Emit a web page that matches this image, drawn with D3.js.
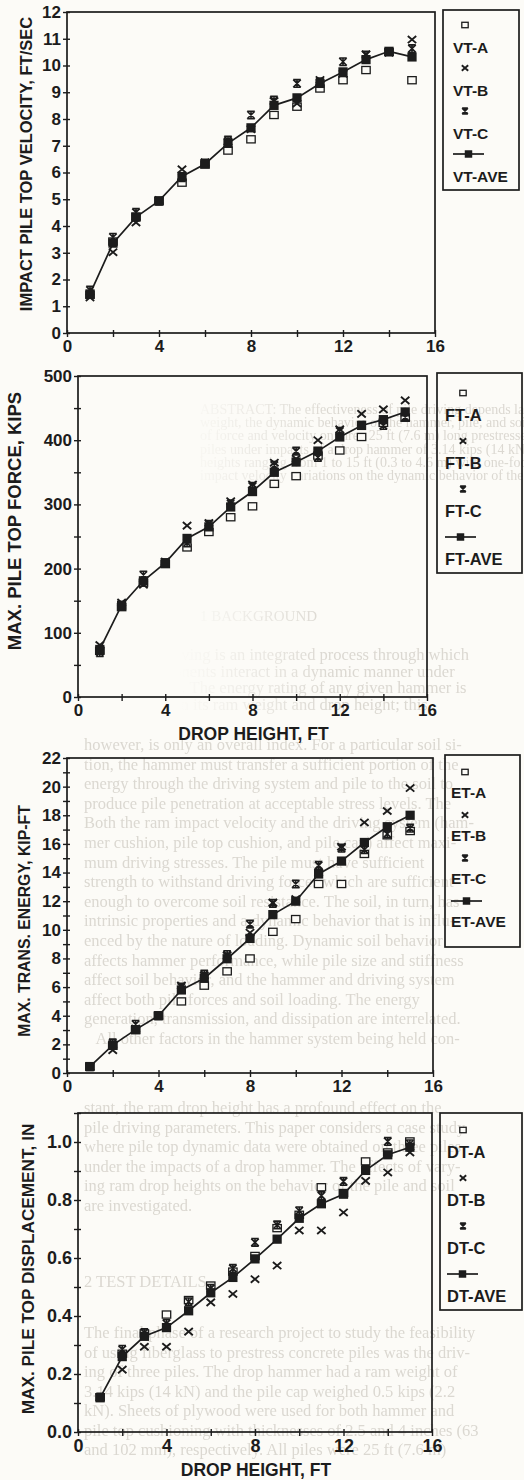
<!DOCTYPE html>
<html>
<head>
<meta charset="utf-8">
<script src="https://cdn.jsdelivr.net/npm/d3@7/dist/d3.min.js"></script>
<style>
  body { margin: 0; background: #fcfbf7; }
  svg { display: block; font-family: "Liberation Sans", Arial, Helvetica, sans-serif; }
</style>
</head>
<body>
<div id="chart"></div>
<script>
// Drop heights, shared x values of all four plots
const dropHeight = [1, 2, 3, 4, 5, 6, 7, 8, 9, 10, 11, 12, 13, 14, 15];
const xTicks = [0, 2, 4, 6, 8, 10, 12, 14, 16];
const xLabelTicks = [0, 4, 8, 12, 16];

// Impact pile top velocity, ft/sec
const vtA = [1.43, 3.42, 4.35, 4.93, 5.62, 6.30, 6.82, 7.24, 8.15, 8.46, 9.14, 9.45, 9.83, 10.50, 9.45];
const vtB = [1.33, 3.02, 4.13, 4.97, 6.12, 6.38, 7.15, 7.62, 8.67, 8.58, 9.46, 9.69, 10.42, 10.48, 10.97];
const vtC = [1.60, 3.58, 4.51, 4.93, 5.81, 6.35, 7.21, 8.15, 8.71, 9.33, 9.39, 10.14, 10.39, 10.52, 10.63];
const vtAve = [1.46, 3.36, 4.33, 4.94, 5.85, 6.32, 7.09, 7.67, 8.51, 8.79, 9.33, 9.76, 10.22, 10.53, 10.32];

// Max. pile top force, kips
const ftA = [72, 140, 178, 207, 233, 257, 280, 297, 332, 344, 376, 384, 405, 427, 435];
const ftB = [81, 147, 175, 211, 267, 271, 305, 331, 365, 371, 400, 417, 441, 448, 462];
const ftC = [69, 142, 190, 209, 240, 269, 301, 328, 361, 383, 373, 414, 423, 423, 436];
const ftAve = [74, 143, 181, 209, 247, 265, 296, 320, 350, 366, 383, 405, 423, 432, 444];

// Max. transferred energy, kip-ft
const etA = [0.45, 1.9, 3.0, 4.0, 5.0, 6.1, 7.1, 8.0, 9.86, 10.75, 13.2, 13.2, 15.3, 16.6, 16.9];
const etB = [0.45, 1.6, 3.1, 4.0, 6.1, 6.8, 8.2, 9.8, 11.9, 12.15, 14.0, 15.8, 17.5, 18.3, 19.9];
const etC = [0.45, 2.1, 3.4, 4.0, 6.0, 6.9, 8.27, 10.4, 11.85, 13.2, 14.5, 15.7, 15.6, 16.7, 17.1];
const etAve = [0.45, 1.95, 3.03, 4.0, 5.8, 6.62, 7.98, 9.4, 11.06, 12.0, 13.9, 14.8, 16.1, 17.2, 18.0];

// Max. pile top displacement, in
const dtA = [0.12, 0.27, 0.34, 0.405, 0.455, 0.505, 0.553, 0.607, 0.703, 0.749, 0.844, 0.824, 0.933, 0.964, 1.002];
const dtB = [0.12, 0.215, 0.294, 0.294, 0.346, 0.447, 0.476, 0.527, 0.574, 0.695, 0.695, 0.757, 0.866, 0.895, 0.964];
const dtC = [0.12, 0.285, 0.343, 0.374, 0.449, 0.495, 0.564, 0.654, 0.714, 0.763, 0.815, 0.864, 0.907, 1.002, 0.994];
const dtAve = [0.118, 0.26, 0.33, 0.36, 0.418, 0.48, 0.533, 0.597, 0.665, 0.737, 0.787, 0.82, 0.902, 0.956, 0.982];

// Faint page text showing through the scan
const abstractLines = [
    "ABSTRACT: The effectiveness of pile driving depends larg-",
    "weight, the dynamic behavior of the hammer, pile, and soil,",
    "of force and velocity on three 25 ft (7.6 m) long prestressed",
    "piles under impacts of a drop hammer of 3.14 kips (14 kN)",
    "heights ranging from 1 to 15 ft (0.3 to 4.6 m) with one-foot",
    "impact velocity variations on the dynamic behavior of the"
];
const introLines = [
    "Impact pile driving is an integrated process through which",
    "various components interact in a dynamic manner under",
    "hammer blows. The energy rating of any given hammer is",
    "dependent upon its ram weight and drop height; this,"
];
const bodyLines = [
    "however, is only an overall index. For a particular soil si-",
    "tion, the hammer must transfer a sufficient portion of the",
    "energy through the driving system and pile to the soil to",
    "produce pile penetration at acceptable stress levels. The",
    "Both the ram impact velocity and the driving system (ham-",
    "mer cushion, pile top cushion, and pile cap) affect maxi-",
    "mum driving stresses. The pile must have sufficient",
    "strength to withstand driving forces which are sufficient",
    "enough to overcome soil resistance. The soil, in turn, has",
    "intrinsic properties and a dynamic behavior that is influ-",
    "enced by the nature of loading. Dynamic soil behavior",
    "affects hammer performance, while pile size and stiffness",
    "affect soil behavior, and the hammer and driving system",
    "affect both pile forces and soil loading. The energy",
    "generation, transmission, and dissipation are interrelated.",
    "   All other factors in the hammer system being held con-"
];
const caseLines = [
    "stant, the ram drop height has a profound effect on the",
    "pile driving parameters. This paper considers a case study",
    "where pile top dynamic data were obtained on three piles",
    "under the impacts of a drop hammer. The effects of vary-",
    "ing ram drop heights on the behavior of the pile and soil",
    "are investigated."
];
const testLines = [
    "The final phase of a research project to study the feasibility",
    "of using fiberglass to prestress concrete piles was the driv-",
    "ing of three piles. The drop hammer had a ram weight of",
    "3.14 kips (14 kN) and the pile cap weighed 0.5 kips (2.2",
    "kN). Sheets of plywood were used for both hammer and",
    "pile top cushioning with thicknesses of 2.5 and 4 inches (63",
    "and 102 mm), respectively. All piles were 25 ft (7.6 m)"
];

const ink = "#1c1c1c";
const paper = "#fcfbf7";
const ghost = "#dbd8d1";

// Create the SVG container
const svg = d3.select('#chart')
    .append('svg')
    .attr('width', 524)
    .attr('height', 1480);

const defs = svg.append('defs');

// Gradient that fades the show-through text in from the left
const grad = defs.append('linearGradient')
    .attr('id', 'fade')
    .attr('gradientUnits', 'userSpaceOnUse')
    .attr('x1', 180).attr('x2', 330).attr('y1', 0).attr('y2', 0);
grad.append('stop').attr('offset', 0).attr('stop-color', ghost).attr('stop-opacity', 0);
grad.append('stop').attr('offset', 1).attr('stop-color', ghost).attr('stop-opacity', 1);

// Slight blur, like the scanned page
defs.append('filter').attr('id', 'soft')
    .append('feGaussianBlur').attr('stdDeviation', 0.45);

const ghostLayer = svg.append('g').attr('filter', 'url(#soft)');

function ghostText(lines, x, y0, step, size, fill) {
    ghostLayer.append('g').selectAll('text')
        .data(lines)
        .enter().append('text')
        .attr('x', x)
        .attr('y', (d, i) => y0 + i * step)
        .attr('font-family', '"Liberation Serif", "Times New Roman", serif')
        .attr('font-size', size)
        .attr('fill', fill)
        .attr('xml:space', 'preserve')
        .text(d => d);
}

ghostText(abstractLines, 200, 414, 13.2, 14, 'url(#fade)');
ghostText(['1 BACKGROUND'], 200, 621, 0, 15, 'url(#fade)');
ghostText(introLines, 84, 660, 16.5, 16.5, 'url(#fade)');
ghostText(bodyLines, 84, 750, 19.6, 16.5, ghost);
ghostText(caseLines, 84, 1113, 19.5, 16.5, ghost);
ghostText(['2 TEST DETAILS'], 84, 1287, 0, 16.5, ghost);
ghostText(testLines, 84, 1338, 19.5, 16.5, ghost);

// Marker shapes used for the three piles and the average (k = size factor)
function drawMarker(sel, kind, k) {
    const h = 4 * k;
    if (kind === 'A') {
        sel.append('rect')
            .attr('x', -h).attr('y', -h * 0.85)
            .attr('width', 2 * h).attr('height', 1.7 * h)
            .attr('fill', paper).attr('stroke', ink).attr('stroke-width', 1.3);
    } else if (kind === 'B') {
        sel.append('path')
            .attr('d', `M${-h},${-h * 0.85}L${h},${h * 0.85}M${-h},${h * 0.85}L${h},${-h * 0.85}`)
            .attr('stroke', ink).attr('stroke-width', 1.9).attr('fill', 'none');
    } else if (kind === 'C') {
        const a = h * 0.9;
        sel.append('path')
            .attr('d', `M${-a},${-a}L${a},${a}M${-a},${a}L${a},${-a}M${-a},${-a}L${a},${-a}M${-a},${a}L${a},${a}M0,${-a}L0,${a}`)
            .attr('stroke', ink).attr('stroke-width', 1.6).attr('fill', 'none');
    } else {
        sel.append('rect')
            .attr('x', -h * 1.1).attr('y', -h * 1.1)
            .attr('width', 2.2 * h).attr('height', 2.2 * h)
            .attr('fill', ink);
    }
}

function near(list, d) {
    return list.some(v => Math.abs(v - d) < 1e-9);
}

function drawPanel(p) {
    // Set up scales for x and y axes
    const xScale = d3.scaleLinear().domain([0, 16]).range([p.left, p.right]);
    const yScale = d3.scaleLinear().domain(p.yDomain).range([p.bottom, p.top]);

    const g = svg.append('g');

    // y axis, labelled ticks plus minor ticks
    const yAxis = g.append('g')
        .attr('transform', `translate(${p.left},0)`)
        .call(d3.axisLeft(yScale)
            .tickValues(p.yTicks)
            .tickFormat(d => near(p.yLabelTicks, d) ? p.yFormat(d) : '')
            .tickSize(4)
            .tickSizeOuter(0)
            .tickPadding(2));
    yAxis.select('.domain').remove();
    yAxis.selectAll('.tick line').attr('x1', 3).attr('stroke', ink).attr('stroke-width', 1.4);
    yAxis.selectAll('.tick text')
        .attr('fill', ink)
        .attr('font-size', p.tickFont)
        .attr('font-weight', 'bold')
        .attr('font-family', null);

    // x axis
    const xAxis = g.append('g')
        .attr('transform', `translate(0,${p.bottom})`)
        .call(d3.axisBottom(xScale)
            .tickValues(xTicks)
            .tickFormat(d => near(xLabelTicks, d) ? d : '')
            .tickSize(4)
            .tickSizeOuter(0)
            .tickPadding(3));
    xAxis.select('.domain').remove();
    xAxis.selectAll('.tick line').attr('y1', -3).attr('stroke', ink).attr('stroke-width', 1.4);
    xAxis.selectAll('.tick text')
        .attr('fill', ink)
        .attr('font-size', p.tickFont)
        .attr('font-weight', 'bold')
        .attr('font-family', null);

    // Frame around the plot
    g.append('rect')
        .attr('x', p.left).attr('y', p.top)
        .attr('width', p.right - p.left).attr('height', p.bottom - p.top)
        .attr('fill', 'none').attr('stroke', ink).attr('stroke-width', 1.7);

    // y axis label
    g.append('text')
        .attr('transform', `translate(${p.yTitleX},${p.yTitleY}) rotate(-90)`)
        .attr('text-anchor', 'middle')
        .attr('font-size', p.titleFont)
        .attr('font-weight', 'bold')
        .attr('fill', ink)
        .text(p.yTitle);

    // x axis label (only under some of the plots)
    if (p.xTitleY) {
        g.append('text')
            .attr('x', (p.left + p.right) / 2 + 1)
            .attr('y', p.xTitleY)
            .attr('text-anchor', 'middle')
            .attr('font-size', p.xTitleFont)
            .attr('font-weight', 'bold')
            .attr('fill', ink)
            .text('DROP HEIGHT, FT');
    }

    // Scatter markers for piles A, B and C
    p.series.slice(0, 3).forEach(s => {
        g.append('g').selectAll('g')
            .data(s.values)
            .enter().append('g')
            .attr('transform', (d, i) => `translate(${xScale(dropHeight[i])},${yScale(d)})`)
            .each(function() { drawMarker(d3.select(this), s.kind, 1.05); });
    });

    // Average line with filled squares
    const ave = p.series[3];
    const line = d3.line()
        .x((d, i) => xScale(dropHeight[i]))
        .y(d => yScale(d));
    g.append('path')
        .datum(ave.values)
        .attr('d', line)
        .attr('fill', 'none')
        .attr('stroke', ink)
        .attr('stroke-width', 1.7);
    g.append('g').selectAll('g')
        .data(ave.values)
        .enter().append('g')
        .attr('transform', (d, i) => `translate(${xScale(dropHeight[i])},${yScale(d)})`)
        .each(function() { drawMarker(d3.select(this), 'AVE', 1.05); });

    // Legend box
    const lg = g.append('g').attr('transform', `translate(${p.legend.x},${p.legend.y})`);
    lg.append('rect')
        .attr('width', p.legend.w).attr('height', p.legend.h)
        .attr('fill', 'none').attr('stroke', ink).attr('stroke-width', 1.7);

    const entries = lg.selectAll('.legend')
        .data(p.series)
        .enter().append('g')
        .attr('class', 'legend')
        .attr('transform', (d, i) => `translate(0,${p.legend.first + i * p.legend.step})`);

    entries.each(function(s) {
        const e = d3.select(this);
        if (s.kind === 'AVE') {
            e.append('line')
                .attr('x1', p.legend.textX).attr('x2', p.legend.textX + 31)
                .attr('y1', 0).attr('y2', 0)
                .attr('stroke', ink).attr('stroke-width', 1.7);
            const m = e.append('g').attr('transform', `translate(${p.legend.textX + 15.5},0)`);
            drawMarker(m, 'AVE', 0.85);
        } else {
            const m = e.append('g').attr('transform', `translate(${p.legend.markX},0)`);
            drawMarker(m, s.kind, 0.8);
        }
    });

    entries.append('text')
        .attr('x', p.legend.textX)
        .attr('y', p.legend.labelDy)
        .attr('font-size', p.legend.font)
        .attr('font-weight', 'bold')
        .attr('fill', ink)
        .text(s => s.name);
}

const panels = [
    {
        left: 67, right: 435, top: 12, bottom: 333,
        yDomain: [0, 12],
        yTicks: d3.range(0, 13),
        yLabelTicks: d3.range(0, 13),
        yFormat: d => d,
        tickFont: 17, titleFont: 16.5,
        yTitle: 'IMPACT PILE TOP VELOCITY, FT/SEC', yTitleX: 32, yTitleY: 164,
        series: [
            { name: 'VT-A', kind: 'A', values: vtA },
            { name: 'VT-B', kind: 'B', values: vtB },
            { name: 'VT-C', kind: 'C', values: vtC },
            { name: 'VT-AVE', kind: 'AVE', values: vtAve }
        ],
        legend: { x: 443, y: 10, w: 76, h: 180, first: 15, step: 43, labelDy: 28, textX: 10, markX: 22, font: 15.5 }
    },
    {
        left: 78, right: 427, top: 376, bottom: 697,
        yDomain: [0, 500],
        yTicks: d3.range(0, 501, 50),
        yLabelTicks: d3.range(0, 501, 100),
        yFormat: d => d,
        tickFont: 17, titleFont: 18.5,
        yTitle: 'MAX. PILE TOP FORCE, KIPS', yTitleX: 21, yTitleY: 521,
        xTitleY: 740, xTitleFont: 17.5,
        series: [
            { name: 'FT-A', kind: 'A', values: ftA },
            { name: 'FT-B', kind: 'B', values: ftB },
            { name: 'FT-C', kind: 'C', values: ftC },
            { name: 'FT-AVE', kind: 'AVE', values: ftAve }
        ],
        legend: { x: 437, y: 373, w: 85, h: 200, first: 20, step: 48, labelDy: 28, textX: 8, markX: 26, font: 16.5 }
    },
    {
        left: 67, right: 433, top: 758, bottom: 1073,
        yDomain: [0, 22],
        yTicks: d3.range(0, 23),
        yLabelTicks: d3.range(0, 23, 2),
        yFormat: d => d,
        tickFont: 17, titleFont: 15.8,
        yTitle: 'MAX. TRANS. ENERGY, KIP-FT', yTitleX: 30, yTitleY: 921,
        series: [
            { name: 'ET-A', kind: 'A', values: etA },
            { name: 'ET-B', kind: 'B', values: etB },
            { name: 'ET-C', kind: 'C', values: etC },
            { name: 'ET-AVE', kind: 'AVE', values: etAve }
        ],
        legend: { x: 445, y: 755, w: 75, h: 192, first: 17, step: 43, labelDy: 26, textX: 6, markX: 20, font: 15.5 }
    },
    {
        left: 78, right: 432, top: 1113, bottom: 1432,
        yDomain: [0, 1.1],
        yTicks: d3.range(0, 12).map(d => d / 10),
        yLabelTicks: d3.range(0, 11, 2).map(d => d / 10),
        yFormat: d3.format('.1f'),
        tickFont: 18, titleFont: 17.2,
        yTitle: 'MAX. PILE TOP DISPLACEMENT, IN', yTitleX: 34, yTitleY: 1269,
        xTitleY: 1476, xTitleFont: 17.5,
        series: [
            { name: 'DT-A', kind: 'A', values: dtA },
            { name: 'DT-B', kind: 'B', values: dtB },
            { name: 'DT-C', kind: 'C', values: dtC },
            { name: 'DT-AVE', kind: 'AVE', values: dtAve }
        ],
        legend: { x: 440, y: 1113, w: 82, h: 197, first: 17, step: 48, labelDy: 28, textX: 7, markX: 23, font: 16.5 }
    }
];

panels.forEach(drawPanel);
</script>
</body>
</html>
